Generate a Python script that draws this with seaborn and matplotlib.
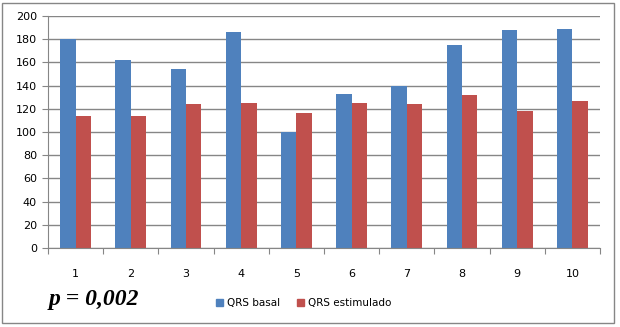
import matplotlib
matplotlib.use("Agg")
import matplotlib.pyplot as plt
import pandas as pd
import seaborn as sns
from matplotlib.patches import Rectangle

patients = ["1", "2", "3", "4", "5", "6", "7", "8", "9", "10"]
qrs_basal = [180, 162, 154, 186, 100, 133, 140, 175, 188, 189]
qrs_estimulado = [114, 114, 124, 125, 116, 125, 124, 132, 118, 127]
series_names = ["QRS basal", "QRS estimulado"]
colors = ["#4F81BD", "#C0504D"]

df = pd.DataFrame({
    "paciente": patients * 2,
    "valor": qrs_basal + qrs_estimulado,
    "serie": [series_names[0]] * len(patients) + [series_names[1]] * len(patients),
})

sns.set_style("white")
plt.rcParams["font.family"] = ["DejaVu Sans"]
plt.rcParams["text.color"] = "black"
plt.rcParams["xtick.color"] = "black"
plt.rcParams["ytick.color"] = "black"

fig = plt.figure(figsize=(6.2, 3.27), dpi=100)
ax = fig.add_axes([0.0774, 0.2416, 0.8903, 0.7095])

sns.barplot(data=df, x="paciente", y="valor", hue="serie", order=patients,
            hue_order=series_names, palette=colors, width=0.56,
            saturation=1, dodge=True, gap=0, linewidth=0, ax=ax, legend=False)

ax.set_ylim(0, 200)
ax.set_yticks(range(0, 201, 20))
ax.set_xlim(-0.5, len(patients) - 0.5)
ax.yaxis.grid(True, color="#868686", linewidth=1)
ax.set_axisbelow(True)
ax.set_xlabel("")
ax.set_ylabel("")

for side in ["top", "right"]:
    ax.spines[side].set_visible(False)
ax.spines["left"].set_color("#868686")
ax.spines["bottom"].set_color("#868686")

# x ticks between categories, labels centered
ax.set_xticks([i - 0.5 for i in range(len(patients) + 1)], minor=False)
ax.set_xticklabels([])
ax.set_xticks(range(len(patients)), minor=True)
ax.set_xticklabels(patients, minor=True)
ax.tick_params(axis="x", which="major", length=4, color="#868686", direction="out", bottom=True)
ax.tick_params(axis="x", which="minor", length=0, pad=15, labelsize=8, labelcolor="black")
ax.tick_params(axis="y", length=4, color="#868686", direction="out", left=True,
               labelsize=8, pad=4, labelcolor="black")

# legend
handles = [Rectangle((0, 0), 1, 1, color=c) for c in colors]
fig.legend(handles, series_names, loc="center", bbox_to_anchor=(0.49, 0.072),
           ncol=2, frameon=False, fontsize=7.5, handlelength=0.7, handleheight=0.7,
           handletextpad=0.4, columnspacing=1.6)

fig.text(0.078, 0.085, "p = 0,002", family=["Liberation Serif"], fontsize=17,
         fontweight="bold", fontstyle="italic", va="center", ha="left", color="black")

# outer chart border
fig.patches.append(Rectangle((0.004, 0.012), 0.986, 0.978, transform=fig.transFigure,
                             fill=False, edgecolor="#868686", linewidth=1))

fig.savefig("out.png", dpi=100)
